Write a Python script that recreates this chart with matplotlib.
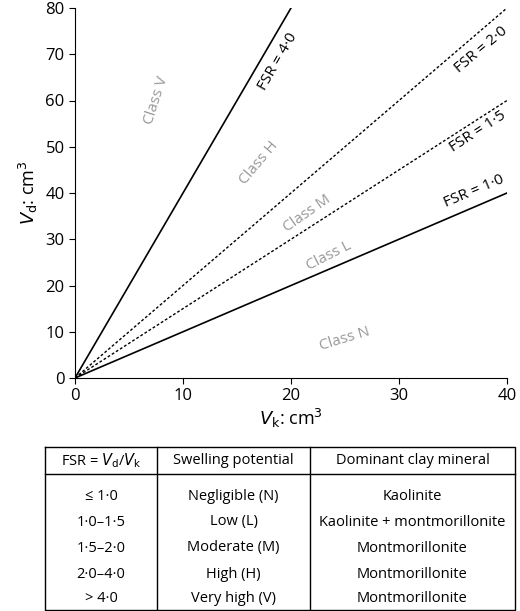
import matplotlib.pyplot as plt

plt.rcParams['font.family'] = ['Open Sans', 'DejaVu Sans']

fsr_values = [4.0, 2.0, 1.5, 1.0]
fsr_labels = ['FSR = 4·0', 'FSR = 2·0', 'FSR = 1·5', 'FSR = 1·0']
fsr_styles = ['-', ':', ':', '-']
class_labels = ['Class V', 'Class H', 'Class M', 'Class L', 'Class N']

header = [r'FSR = $V_{\rm d}$/$V_{\rm k}$', 'Swelling potential', 'Dominant clay mineral']
col_fsr = ['≤ 1·0', '1·0–1·5', '1·5–2·0', '2·0–4·0', '> 4·0']
col_potential = ['Negligible (N)', 'Low (L)', 'Moderate (M)', 'High (H)', 'Very high (V)']
col_mineral = ['Kaolinite', 'Kaolinite + montmorillonite', 'Montmorillonite',
               'Montmorillonite', 'Montmorillonite']

W, H = 520, 611
fig = plt.figure(figsize=(W / 100, H / 100), dpi=100)
ax = fig.add_axes([75 / W, (H - 378) / H, 432 / W, 370 / H])

for r, ls in zip(fsr_values, fsr_styles):
    xe = min(40, 80 / r)
    ax.plot([0, xe], [0, r * xe], color='black', lw=1.2 if ls == '-' else 1.0,
            linestyle=(0, (2, 1.5)) if ls == ':' else '-')

ax.set_xlim(0, 40)
ax.set_ylim(0, 80)
ax.set_xticks(range(0, 41, 10))
ax.set_yticks(range(0, 81, 10))
ax.tick_params(labelsize=12, direction='out', length=4)
for s in ['top', 'right']:
    ax.spines[s].set_visible(False)
ax.set_xlabel(r'$V_{\rm k}$: cm$^3$', fontsize=13, labelpad=2)
ax.set_ylabel(r'$V_{\rm d}$: cm$^3$', fontsize=13, labelpad=4)

# FSR line labels
fsr_pos = [(18.8, 68.5, 60), (37.6, 71, 40), (37.3, 53.3, 33), (36.9, 40.3, 23)]
for (x, y, rot), t in zip(fsr_pos, fsr_labels):
    ax.text(x, y, t, fontsize=11, rotation=rot, ha='center', va='center')

# class labels
class_pos = [(7.5, 60, 72), (17, 46.5, 50), (21.5, 35.5, 35), (23.5, 26.5, 27), (25, 8.5, 17)]
for (x, y, rot), t in zip(class_pos, class_labels):
    ax.text(x, y, t, fontsize=11, rotation=rot, ha='center', va='center', color='#999999')

# table
tax = fig.add_axes([0, 0, 1, 1])
tax.set_xlim(0, W)
tax.set_ylim(H, 0)
tax.axis('off')
left, right, top, bottom = 45, 515, 447, 610
cols = [left, 157, 310, right]
tax.plot([left, right, right, left, left], [top, top, bottom, bottom, top], color='black', lw=1)
tax.plot([left, right], [474, 474], color='black', lw=1)
for c in cols[1:-1]:
    tax.plot([c, c], [top, bottom], color='black', lw=1)
centers = [(cols[i] + cols[i + 1]) / 2 for i in range(3)]
for cx, t in zip(centers, header):
    tax.text(cx, 461, t, fontsize=10.5, ha='center', va='center')
row_y = [497, 522, 548, 574, 598]
for y, a, b, c in zip(row_y, col_fsr, col_potential, col_mineral):
    for cx, t in zip(centers, (a, b, c)):
        tax.text(cx, y, t, fontsize=10.5, ha='center', va='center')

fig.savefig('out.png', dpi=100)
